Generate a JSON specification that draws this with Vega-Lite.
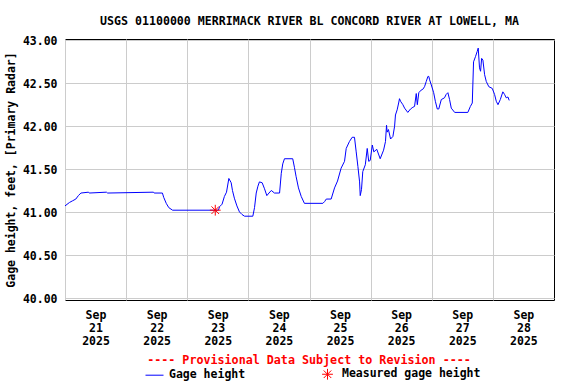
{
  "$schema": "https://vega.github.io/schema/vega-lite/v6.json",
  "width": 489,
  "height": 261,
  "autosize": {"type": "none"},
  "padding": {"left": 65, "top": 39, "right": 22, "bottom": 84},
  "background": "white",
  "title": {
    "text": "USGS 01100000 MERRIMACK RIVER BL CONCORD RIVER AT LOWELL, MA",
    "font": "DejaVu Sans Mono",
    "fontSize": 11.6,
    "fontWeight": "bold",
    "color": "black",
    "anchor": "middle",
    "offset": 8
  },
  "datasets": {
    "gage": [
      {"time": "2025-09-21T00:00", "height": 41.07},
      {"time": "2025-09-21T01:45", "height": 41.11},
      {"time": "2025-09-21T03:00", "height": 41.13},
      {"time": "2025-09-21T04:15", "height": 41.15},
      {"time": "2025-09-21T05:15", "height": 41.19},
      {"time": "2025-09-21T06:15", "height": 41.22},
      {"time": "2025-09-21T09:15", "height": 41.23},
      {"time": "2025-09-21T09:30", "height": 41.22},
      {"time": "2025-09-21T16:15", "height": 41.23},
      {"time": "2025-09-21T16:45", "height": 41.22},
      {"time": "2025-09-22T10:45", "height": 41.23},
      {"time": "2025-09-22T11:00", "height": 41.22},
      {"time": "2025-09-22T14:15", "height": 41.22},
      {"time": "2025-09-22T14:45", "height": 41.17},
      {"time": "2025-09-22T15:45", "height": 41.10},
      {"time": "2025-09-22T16:45", "height": 41.05},
      {"time": "2025-09-22T18:15", "height": 41.02},
      {"time": "2025-09-23T12:15", "height": 41.02},
      {"time": "2025-09-23T12:40", "height": 41.06},
      {"time": "2025-09-23T13:40", "height": 41.09},
      {"time": "2025-09-23T14:35", "height": 41.18},
      {"time": "2025-09-23T15:25", "height": 41.23},
      {"time": "2025-09-23T16:20", "height": 41.39},
      {"time": "2025-09-23T17:15", "height": 41.34},
      {"time": "2025-09-23T17:45", "height": 41.25},
      {"time": "2025-09-23T18:30", "height": 41.16},
      {"time": "2025-09-23T19:30", "height": 41.07},
      {"time": "2025-09-23T20:30", "height": 41.00},
      {"time": "2025-09-23T21:30", "height": 40.97},
      {"time": "2025-09-23T22:30", "height": 40.95},
      {"time": "2025-09-24T01:45", "height": 40.95},
      {"time": "2025-09-24T02:25", "height": 41.05},
      {"time": "2025-09-24T03:05", "height": 41.22},
      {"time": "2025-09-24T03:45", "height": 41.30},
      {"time": "2025-09-24T04:20", "height": 41.35},
      {"time": "2025-09-24T05:25", "height": 41.34},
      {"time": "2025-09-24T06:20", "height": 41.27},
      {"time": "2025-09-24T07:15", "height": 41.19},
      {"time": "2025-09-24T08:05", "height": 41.22},
      {"time": "2025-09-24T09:00", "height": 41.25},
      {"time": "2025-09-24T10:15", "height": 41.22},
      {"time": "2025-09-24T12:15", "height": 41.22},
      {"time": "2025-09-24T12:55", "height": 41.45},
      {"time": "2025-09-24T13:30", "height": 41.56},
      {"time": "2025-09-24T14:10", "height": 41.62},
      {"time": "2025-09-24T17:25", "height": 41.62},
      {"time": "2025-09-24T18:05", "height": 41.52},
      {"time": "2025-09-24T18:45", "height": 41.41},
      {"time": "2025-09-24T19:40", "height": 41.28},
      {"time": "2025-09-24T20:45", "height": 41.18},
      {"time": "2025-09-24T22:00", "height": 41.10},
      {"time": "2025-09-25T05:15", "height": 41.10},
      {"time": "2025-09-25T05:55", "height": 41.12},
      {"time": "2025-09-25T06:35", "height": 41.15},
      {"time": "2025-09-25T08:30", "height": 41.15},
      {"time": "2025-09-25T09:50", "height": 41.28},
      {"time": "2025-09-25T11:00", "height": 41.36},
      {"time": "2025-09-25T12:25", "height": 41.51},
      {"time": "2025-09-25T13:45", "height": 41.59},
      {"time": "2025-09-25T14:25", "height": 41.74},
      {"time": "2025-09-25T15:40", "height": 41.82},
      {"time": "2025-09-25T16:45", "height": 41.87},
      {"time": "2025-09-25T17:40", "height": 41.87},
      {"time": "2025-09-25T18:20", "height": 41.70},
      {"time": "2025-09-25T19:00", "height": 41.53},
      {"time": "2025-09-25T19:40", "height": 41.35},
      {"time": "2025-09-25T19:55", "height": 41.19},
      {"time": "2025-09-25T20:25", "height": 41.26},
      {"time": "2025-09-25T20:55", "height": 41.47},
      {"time": "2025-09-25T21:55", "height": 41.55},
      {"time": "2025-09-25T22:40", "height": 41.74},
      {"time": "2025-09-25T23:15", "height": 41.59},
      {"time": "2025-09-25T23:50", "height": 41.60},
      {"time": "2025-09-26T00:40", "height": 41.78},
      {"time": "2025-09-26T01:15", "height": 41.70},
      {"time": "2025-09-26T02:25", "height": 41.73},
      {"time": "2025-09-26T03:45", "height": 41.62},
      {"time": "2025-09-26T05:05", "height": 41.72},
      {"time": "2025-09-26T05:50", "height": 41.82},
      {"time": "2025-09-26T06:15", "height": 42.01},
      {"time": "2025-09-26T06:30", "height": 41.93},
      {"time": "2025-09-26T07:00", "height": 41.96},
      {"time": "2025-09-26T07:50", "height": 41.85},
      {"time": "2025-09-26T08:45", "height": 41.88},
      {"time": "2025-09-26T09:25", "height": 42.00},
      {"time": "2025-09-26T09:45", "height": 42.13},
      {"time": "2025-09-26T10:25", "height": 42.19},
      {"time": "2025-09-26T11:00", "height": 42.27},
      {"time": "2025-09-26T11:20", "height": 42.32},
      {"time": "2025-09-26T11:45", "height": 42.29},
      {"time": "2025-09-26T12:40", "height": 42.25},
      {"time": "2025-09-26T13:20", "height": 42.21},
      {"time": "2025-09-26T14:35", "height": 42.16},
      {"time": "2025-09-26T15:40", "height": 42.20},
      {"time": "2025-09-26T16:35", "height": 42.22},
      {"time": "2025-09-26T17:15", "height": 42.23},
      {"time": "2025-09-26T17:55", "height": 42.38},
      {"time": "2025-09-26T18:20", "height": 42.25},
      {"time": "2025-09-26T18:55", "height": 42.39},
      {"time": "2025-09-26T19:50", "height": 42.42},
      {"time": "2025-09-26T20:30", "height": 42.43},
      {"time": "2025-09-26T21:10", "height": 42.46},
      {"time": "2025-09-26T21:50", "height": 42.52},
      {"time": "2025-09-26T22:30", "height": 42.58},
      {"time": "2025-09-26T22:50", "height": 42.58},
      {"time": "2025-09-26T23:10", "height": 42.54},
      {"time": "2025-09-26T23:50", "height": 42.48},
      {"time": "2025-09-27T00:45", "height": 42.39},
      {"time": "2025-09-27T01:25", "height": 42.29},
      {"time": "2025-09-27T02:10", "height": 42.20},
      {"time": "2025-09-27T02:45", "height": 42.20},
      {"time": "2025-09-27T03:45", "height": 42.31},
      {"time": "2025-09-27T05:00", "height": 42.33},
      {"time": "2025-09-27T05:40", "height": 42.37},
      {"time": "2025-09-27T06:20", "height": 42.39},
      {"time": "2025-09-27T07:00", "height": 42.31},
      {"time": "2025-09-27T07:40", "height": 42.21},
      {"time": "2025-09-27T09:00", "height": 42.16},
      {"time": "2025-09-27T14:10", "height": 42.16},
      {"time": "2025-09-27T15:10", "height": 42.23},
      {"time": "2025-09-27T15:55", "height": 42.27},
      {"time": "2025-09-27T16:25", "height": 42.75},
      {"time": "2025-09-27T17:10", "height": 42.81},
      {"time": "2025-09-27T17:50", "height": 42.87},
      {"time": "2025-09-27T18:15", "height": 42.91},
      {"time": "2025-09-27T18:45", "height": 42.68},
      {"time": "2025-09-27T19:10", "height": 42.64},
      {"time": "2025-09-27T19:35", "height": 42.79},
      {"time": "2025-09-27T20:05", "height": 42.77},
      {"time": "2025-09-27T20:45", "height": 42.60},
      {"time": "2025-09-27T21:25", "height": 42.52},
      {"time": "2025-09-27T22:25", "height": 42.46},
      {"time": "2025-09-27T23:45", "height": 42.44},
      {"time": "2025-09-28T00:40", "height": 42.37},
      {"time": "2025-09-28T01:20", "height": 42.29},
      {"time": "2025-09-28T02:00", "height": 42.25},
      {"time": "2025-09-28T02:55", "height": 42.31},
      {"time": "2025-09-28T03:55", "height": 42.40},
      {"time": "2025-09-28T04:35", "height": 42.37},
      {"time": "2025-09-28T05:15", "height": 42.33},
      {"time": "2025-09-28T05:55", "height": 42.34},
      {"time": "2025-09-28T06:25", "height": 42.30}
    ],
    "measured": [
      {"time": "2025-09-23T11:00", "height": 41.02}
    ]
  },
  "encoding": {
    "x": {
      "field": "time",
      "type": "temporal",
      "scale": {
        "domain": [
          {"year": 2025, "month": 9, "date": 21, "hours": 0},
          {"year": 2025, "month": 9, "date": 29, "hours": 0}
        ]
      },
      "axis": {
        "title": null,
        "values": [
          {"year": 2025, "month": 9, "date": 21},
          {"year": 2025, "month": 9, "date": 22},
          {"year": 2025, "month": 9, "date": 23},
          {"year": 2025, "month": 9, "date": 24},
          {"year": 2025, "month": 9, "date": 25},
          {"year": 2025, "month": 9, "date": 26},
          {"year": 2025, "month": 9, "date": 27},
          {"year": 2025, "month": 9, "date": 28}
        ],
        "labelExpr": "[timeFormat(datum.value, '%b'), timeFormat(datum.value, '%d'), timeFormat(datum.value, '%Y')]",
        "labelOffset": 30.5,
        "labelPadding": 9,
        "labelLineHeight": 13,
        "labelFlush": false,
        "labelOverlap": false
      }
    },
    "y": {
      "field": "height",
      "type": "quantitative",
      "scale": {"domain": [39.973, 43.016], "nice": false, "zero": false},
      "axis": {
        "title": "Gage height, feet, [Primary Radar]",
        "values": [40, 40.5, 41, 41.5, 42, 42.5, 43],
        "format": ".2f",
        "labelPadding": 8,
        "labelFlush": false,
        "labelOverlap": false,
        "labelBaseline": "middle",
        "labelOffset": 1.5,
        "titleX": -54,
        "titleY": 130.5,
        "titleAngle": 270,
        "titleAlign": "center",
        "titleBaseline": "middle"
      }
    }
  },
  "layer": [
    {
      "data": {"name": "gage"},
      "mark": {"type": "line", "strokeWidth": 1, "interpolate": "linear"},
      "encoding": {
        "color": {
          "datum": "Gage height",
          "type": "nominal",
          "scale": {"domain": ["Gage height", "Measured gage height"], "range": ["#0000ff", "#ff0000"]},
          "legend": {
            "orient": "none",
            "legendX": 80,
            "legendY": 316,
            "direction": "horizontal",
            "title": "---- Provisional Data Subject to Revision ----",
            "titleColor": "#ff0000",
            "titleFont": "DejaVu Sans Mono",
            "titleFontSize": 11.7,
            "titleFontWeight": "bold",
            "titleAnchor": "middle",
            "titleLimit": 500,
            "titlePadding": -2,
            "labelFont": "DejaVu Sans Mono",
            "labelFontSize": 11.5,
            "labelFontWeight": "bold",
            "labelColor": "black",
            "labelLimit": 300,
            "labelOffset": 5,
            "columnPadding": 72,
            "padding": 0,
            "symbolSize": 324,
            "symbolStrokeWidth": 1,
            "encode": {
              "title": {"update": {"dx": {"value": -4}}},
              "symbols": {
                "update": {
                  "shape": {"signal": "datum.value == 'Gage height' ? 'stroke' : 'M-0.6,0L0.6,0M0,-0.6L0,0.6M-0.42,-0.42L0.42,0.42M-0.42,0.42L0.42,-0.42'"},
                  "stroke": {"signal": "datum.value == 'Gage height' ? '#0000ff' : '#ff0000'"},
                  "fill": {"value": "transparent"},
                  "strokeWidth": {"value": 1},
                  "opacity": {"value": 1}
                }
              }
            }
          }
        }
      }
    },
    {
      "data": {"name": "measured"},
      "mark": {
        "type": "point",
        "shape": "M-0.6,0L0.6,0M0,-0.6L0,0.6M-0.42,-0.42L0.42,0.42M-0.42,0.42L0.42,-0.42",
        "size": 324,
        "filled": false,
        "strokeWidth": 1,
        "opacity": 1
      },
      "encoding": {
        "color": {"datum": "Measured gage height", "type": "nominal"}
      }
    }
  ],
  "config": {
    "view": {"stroke": "black", "strokeWidth": 1},
    "axis": {
      "labelFont": "DejaVu Sans Mono",
      "labelFontSize": 11.5,
      "labelFontWeight": "bold",
      "labelColor": "black",
      "titleFont": "DejaVu Sans Mono",
      "titleFontSize": 11.5,
      "titleFontWeight": "bold",
      "titleColor": "black",
      "gridColor": "#cccccc",
      "gridWidth": 1,
      "gridOpacity": 1,
      "domain": false,
      "ticks": false
    }
  }
}
